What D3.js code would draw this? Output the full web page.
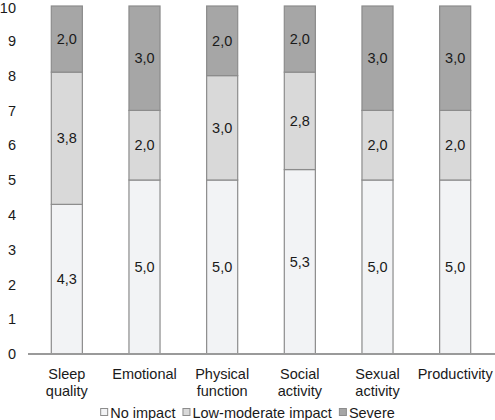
<!DOCTYPE html>
<html>
<head>
<meta charset="utf-8">
<script src="https://cdn.jsdelivr.net/npm/d3@7"></script>
<style>
  body { margin: 0; background: #fff; }
  text { font-family: "Liberation Sans", Arial, sans-serif; fill: #1a1a1a; }
</style>
</head>
<body>
<div id="chart"></div>
<script>
// categories (two-line labels)
const categories = [
  ['Sleep', 'quality'],
  ['Emotional'],
  ['Physical', 'function'],
  ['Social', 'activity'],
  ['Sexual', 'activity'],
  ['Productivity']
];
const noImpact    = [4.3, 5.0, 5.0, 5.3, 5.0, 5.0];
const lowModerate = [3.8, 2.0, 3.0, 2.8, 2.0, 2.0];
const severe      = [2.0, 3.0, 2.0, 2.0, 3.0, 3.0];
const seriesNames = ['No impact', 'Low-moderate impact', 'Severe'];
const yTicks = [0, 1, 2, 3, 4, 5, 6, 7, 8, 9, 10];

const colors = ['#f2f3f5', '#d9d9d9', '#a6a6a6'];

const W = 495, H = 420;
const margin = {top: 6, right: 1, bottom: 66, left: 28};
const fontSize = '14.5px';

const svg = d3.select('#chart').append('svg')
  .attr('width', W)
  .attr('height', H);

const rows = categories.map((c, i) => ({
  key: i,
  noImpact: noImpact[i],
  lowModerate: lowModerate[i],
  severe: severe[i]
}));
const stack = d3.stack().keys(['noImpact', 'lowModerate', 'severe']);
const series = stack(rows);

const x = d3.scaleBand()
  .domain(d3.range(categories.length))
  .range([margin.left, W - margin.right])
  .paddingInner(0.6)
  .paddingOuter(0.3);

// totals slightly over 10 are clipped at the top like in the original
const y = d3.scaleLinear()
  .domain([0, 10])
  .range([H - margin.bottom, margin.top])
  .clamp(true);

// y tick labels
const yAxis = svg.append('g')
  .attr('transform', `translate(${margin.left},0)`)
  .call(d3.axisLeft(y).tickValues(yTicks).tickSize(0).tickPadding(12));
yAxis.select('.domain').remove();
yAxis.selectAll('text')
  .style('font-family', '"Liberation Sans", Arial, sans-serif')
  .style('font-size', fontSize)
  .attr('fill', '#1a1a1a')
  .attr('dy', d => d === 10 ? '0.45em' : '0.32em');

// bars
const groups = svg.selectAll('g.series')
  .data(series)
  .join('g')
  .attr('class', 'series')
  .attr('fill', (d, i) => colors[i]);

groups.selectAll('rect')
  .data(d => d)
  .join('rect')
  .attr('x', (d, i) => x(i))
  .attr('width', x.bandwidth())
  .attr('y', d => y(d[1]))
  .attr('height', d => y(d[0]) - y(d[1]))
  .attr('stroke', '#8c8c8c')
  .attr('stroke-width', 1.2);

// value labels
groups.selectAll('text')
  .data(d => d.map(v => ({v: v, val: v[1] - v[0]})))
  .join('text')
  .attr('x', (d, i) => x(i) + x.bandwidth() / 2)
  .attr('y', d => (y(d.v[0]) + y(d.v[1])) / 2)
  .attr('dy', '0.35em')
  .attr('text-anchor', 'middle')
  .style('font-size', fontSize)
  .text(d => d3.format('.1f')(d.val).replace('.', ','));

// baseline
svg.append('line')
  .attr('x1', margin.left)
  .attr('x2', W)
  .attr('y1', y(0))
  .attr('y2', y(0))
  .attr('stroke', '#9a9a9a')
  .attr('stroke-width', 2);

// category labels
const cat = svg.append('g').selectAll('text')
  .data(categories)
  .join('text')
  .attr('x', (d, i) => x(i) + x.bandwidth() / 2)
  .attr('y', 379)
  .attr('text-anchor', 'middle')
  .style('font-size', fontSize);
cat.selectAll('tspan')
  .data(d => d)
  .join('tspan')
  .attr('x', function() { return this.parentNode.getAttribute('x'); })
  .attr('dy', (d, j) => j === 0 ? 0 : 17)
  .text(d => d);

// legend
const legend = svg.append('g');
let lx = 0;
seriesNames.forEach((name, i) => {
  const g = legend.append('g').attr('transform', `translate(${lx},0)`);
  g.append('rect')
    .attr('x', 0.5).attr('y', -9.5)
    .attr('width', 7).attr('height', 7)
    .attr('fill', colors[i])
    .attr('stroke', '#8c8c8c');
  const t = g.append('text')
    .attr('x', 10)
    .attr('y', 0)
    .style('font-size', fontSize)
    .text(name);
  lx += 10 + t.node().getComputedTextLength() + 7;
});
legend.attr('transform', `translate(${(W - (lx - 7)) / 2},418)`);
</script>
</body>
</html>
